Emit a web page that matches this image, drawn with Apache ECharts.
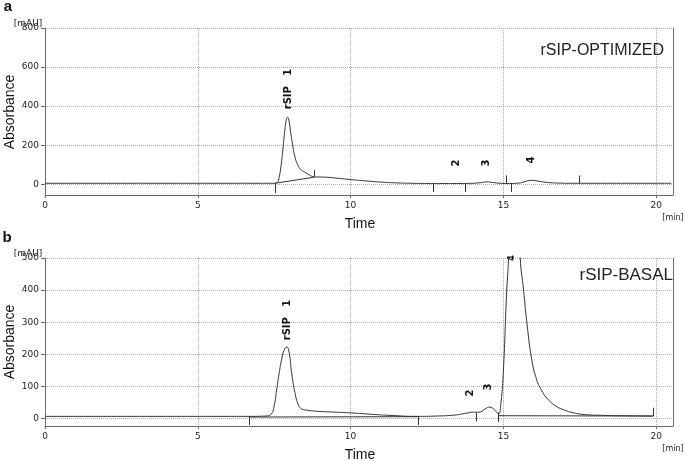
<!DOCTYPE html>
<html><head><meta charset="utf-8">
<script src="https://cdn.jsdelivr.net/npm/echarts@6/dist/echarts.min.js"></script>
<style>html,body{margin:0;padding:0;background:#fff}#c{width:685px;height:461px}</style>
</head><body><div id="c"></div>
<script>
const timeTicks = [0, 5, 10, 15, 20];
const topYTicks = [0, 200, 400, 600, 800];
const botYTicks = [0, 100, 200, 300, 400, 500];

const topTime = [0,2,4,6,7.0, 7.5,7.6,7.66,7.72,7.78, 7.84,7.89,7.94,7.99,8.04, 8.1,8.18,8.27,8.37,8.5, 8.65,8.8,9.0,9.2,9.5, 10.0,10.5,11.0,11.5,12.0, 12.5,13.0,13.5,14.0,14.25, 14.45,14.65,14.9,15.2,15.5, 15.7,15.9,16.1,16.4,16.8, 17.2,18,19,20,20.5];
const topAbs  = [5,5,5,5,5, 5,10,35,90,170, 265,325,343,320,265, 205,140,100,75,62, 48,38,37,36,32, 24,17,11,7,5, 4,4,4,5,8, 12,9,5,4,6, 13,20,17,10,6, 5,5,5,5,5];

const botTime = [0,2,4,6,6.68, 7.2,7.4,7.5,7.58,7.66, 7.74,7.82,7.91,7.99,8.07, 8.18,8.29,8.4,8.6,8.89, 9.5,9.98,10.6,11.29,12.17, 12.8,13.4,13.8,14.02,14.2, 14.4,14.55,14.7,14.84,14.92, 15.0,15.1,15.17,15.35,15.55, 15.66,15.77,15.93,16.09,16.25, 16.42,16.7,16.96,17.3,17.73, 18.3,18.82,19.91];
const botAbs  = [7,7,7,7,7, 8,14,40,90,140, 183,212,223,205,143, 80,43,30,26,23, 20,18,14,10,7, 8,11,17,20,20, 30,36,28,15,50, 150,380,500,900,500, 400,297,183,121,88, 64,40,28,18,12, 10,9,8];

// integration markers: [time, from, to]
const topMarkers = [[7.53,5,-45],[8.8,36,72],[12.69,5,-40],[13.75,5,-40],[15.08,5,45],[15.25,5,-40],[17.49,5,45]];
const botMarkers = [[6.68,6,-20],[12.2,6,-20],[14.1,19,-9],[14.84,19,-11],[19.9,34,8]];
// integration baselines: [t1, v1, t2, v2]
const topBase = [[7.53,5,8.8,36]];
const botBase = [[6.68,5,12.2,6],[14.84,9,19.9,8]];

function zip(a,b){ return a.map((t,i)=>[t,b[i]]); }
function mk(list){ return list.map(m=>[{coord:[m[0],m[1]]},{coord:[m[0],m[2]]}]); }
function seg(list){ return list.map(s=>[{coord:[s[0],s[1]]},{coord:[s[2],s[3]]}]); }

const AX = '#6a6a6a';
const TF = 'DejaVu Sans';
function xAx(g){
  return {type:'value', gridIndex:g, min:0, max:20.55,
    axisLine:{show:true, onZero:false, lineStyle:{color:AX, width:1}},
    axisTick:{show:true, customValues:timeTicks, length:3, lineStyle:{color:AX}},
    axisLabel:{customValues:timeTicks, fontSize:9, fontFamily:TF, color:'#222', margin:6},
    splitLine:{show:true, lineStyle:{type:'dotted', color:'#a8a8a8', width:1}}};
}
function yAx(g, mn, mx, ticks){
  return {type:'value', gridIndex:g, min:mn, max:mx,
    axisLine:{show:true, onZero:false, lineStyle:{color:AX, width:1}},
    axisTick:{show:true, customValues:ticks, length:4, lineStyle:{color:AX}},
    axisLabel:{customValues:ticks, fontSize:9, fontFamily:TF, color:'#222', margin:6},
    splitLine:{show:true, lineStyle:{type:'dotted', color:'#a8a8a8', width:1}}};
}
function yRight(g, mn, mx){
  return {type:'value', gridIndex:g, position:'right', min:mn, max:mx,
    axisLine:{show:true, onZero:false, lineStyle:{color:AX, width:1}},
    axisTick:{show:false}, axisLabel:{show:false}, splitLine:{show:false}};
}
function markLineOpt(markers, base){
  return {symbol:['none','none'], silent:true, animation:false, label:{show:false},
    lineStyle:{color:'#333', width:1, type:'solid'}, emphasis:{disabled:true},
    data: mk(markers).concat(seg(base))};
}
function txt(x,y,text,font,opts){
  return Object.assign({type:'text', x:x, y:y, silent:true, z:100,
    style:Object.assign({text:text, font:font, fill:'#111', align:'center', verticalAlign:'middle'}, opts||{})});
}
const R = Math.PI/2;
const lblFont = 'bold 10px "DejaVu Sans"';

const chart = echarts.init(document.getElementById('c'), null, {renderer:'canvas'});
chart.setOption({
  animation:false,
  backgroundColor:'#fff',
  grid:[{left:45, width:628, top:28, height:167}, {left:45, width:628, top:258, height:168}],
  xAxis:[xAx(0), xAx(1)],
  yAxis:[yAx(0,-55,800,topYTicks), yRight(0,-55,800), yAx(1,-23,500,botYTicks), yRight(1,-23,500)],
  series:[
    {type:'line', xAxisIndex:0, yAxisIndex:0, data:zip(topTime,topAbs), showSymbol:false, smooth:0.5,
     lineStyle:{color:'#333', width:1}, clip:true, markLine:markLineOpt(topMarkers, topBase)},
    {type:'line', xAxisIndex:1, yAxisIndex:2, data:zip(botTime,botAbs), showSymbol:false, smooth:0.5,
     lineStyle:{color:'#333', width:1}, clip:true, markLine:markLineOpt(botMarkers, botBase)}
  ],
  graphic:[
    txt(8,7,'a','bold 15px "Liberation Sans"'),
    txt(7,238,'b','bold 15px "Liberation Sans"'),
    txt(10,112,'Absorbance','14px "Liberation Sans"',{}), 
    txt(10,342,'Absorbance','14px "Liberation Sans"',{}),
    txt(360,224,'Time','14px "Liberation Sans"'),
    txt(360,455,'Time','14px "Liberation Sans"'),
    txt(673,218,'[min]','8px "DejaVu Sans"',{fill:'#222'}),
    txt(673,449,'[min]','8px "DejaVu Sans"',{fill:'#222'}),
    txt(28,24,'[mAU]','9px "DejaVu Sans"',{fill:'#222'}),
    txt(28,254,'[mAU]','9px "DejaVu Sans"',{fill:'#222'}),
    txt(664,51,'rSIP-OPTIMIZED','16px "Liberation Sans"',{align:'right', fill:'#222'}),
    txt(673,275,'rSIP-BASAL','17px "Liberation Sans"',{align:'right', fill:'#222'}),
    txt(288,89,'rSIP   1',lblFont),
    txt(456,163,'2',lblFont),
    txt(486,163,'3',lblFont),
    txt(531,160,'4',lblFont),
    txt(287,320,'rSIP   1',lblFont),
    txt(470,393,'2',lblFont),
    txt(488,387,'3',lblFont),
    txt(512,258,'4','bold 8px "DejaVu Sans"')
  ].map((g,i)=>{
    if ([2,3,12,13,14,15,16,17,18,19].includes(i)) g.rotation = R;
    return g;
  })
});
</script>
</body></html>
